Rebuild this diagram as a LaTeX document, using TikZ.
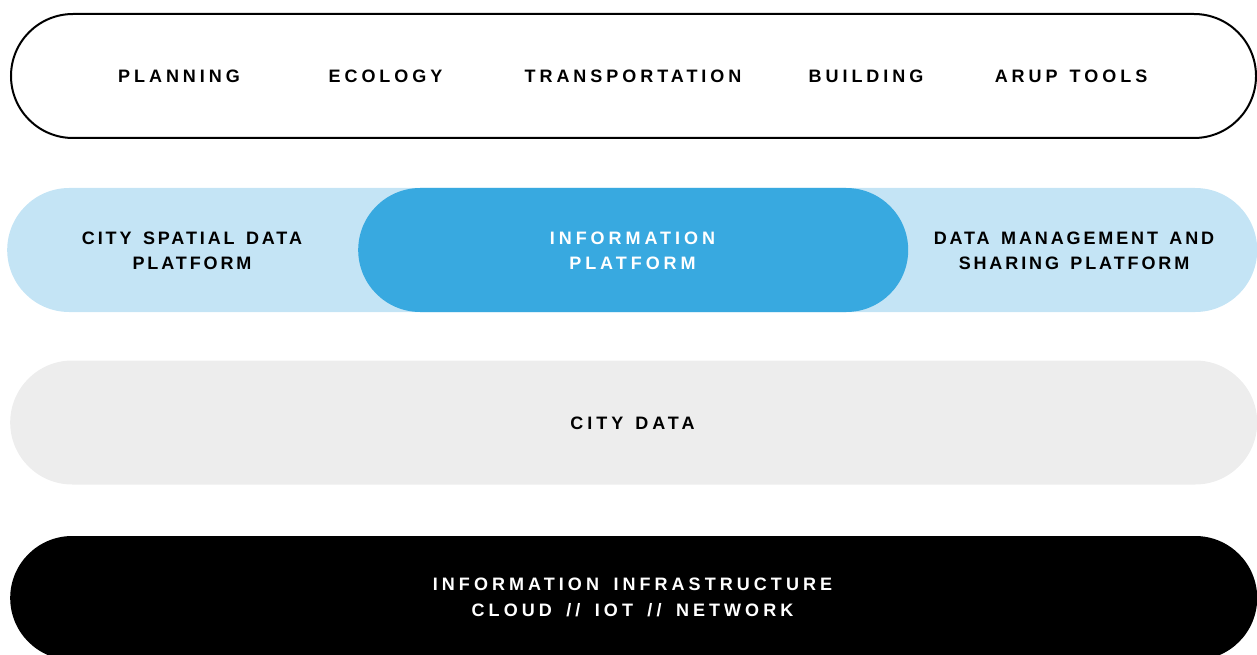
\documentclass[tikz,border=0pt]{standalone}
\usepackage{fontspec}
\newfontfamily\lblA{Liberation Sans}[LetterSpace=22, WordSpace=1.35]
\newfontfamily\lblB{Liberation Sans}[LetterSpace=16, WordSpace=1.45]
\newfontfamily\lblC{Liberation Sans}[LetterSpace=22.5, WordSpace=1.6]
\definecolor{lightblue}{HTML}{C4E4F5}
\definecolor{midblue}{HTML}{38A9E0}
\definecolor{lightgrey}{HTML}{EDEDED}
\tikzset{
  pill/.style={rectangle, rounded corners=62pt, minimum height=124pt, inner sep=0pt, anchor=west},
  lab/.style={font=\lblA\bfseries\fontsize{18pt}{25pt}\selectfont, align=center, inner sep=0pt, text=black},
  labB/.style={lab, font=\lblB\bfseries\fontsize{18pt}{25pt}\selectfont},
  wlab/.style={lab, text=white},
  wlabC/.style={wlab, font=\lblC\bfseries\fontsize{18pt}{26pt}\selectfont}
}
\begin{document}
\begin{tikzpicture}[x=1pt,y=-1pt]
\useasboundingbox (0,0) rectangle (1257,655);
\begin{scope}
\clip (0,0) rectangle (1257,655);
% top row
\node[pill, draw=black, line width=2pt, fill=white, minimum width=1245pt] (tools) at (10,76) {};
% platforms
\node[pill, fill=lightblue, minimum width=1250pt] (plat) at (7,250) {};
\node[pill, fill=midblue, minimum width=550pt] (info) at (358,250) {};
% city data
\node[pill, fill=lightgrey, minimum width=1247pt] (data) at (10,422.5) {};
% infrastructure
\node[pill, fill=black, minimum width=1247pt] (infra) at (10,598) {};
\end{scope}
\node[lab] (planning) at (179,76) {PLANNING};
\node[lab] (ecology) at (385.5,76) {ECOLOGY};
\node[lab] (transport) at (633,76) {TRANSPORTATION};
\node[lab] (building) at (866,76) {BUILDING};
\node[lab] (arup) at (1071,76) {ARUP TOOLS};
\node[labB] (spatial) at (192,250.5) {CITY SPATIAL DATA\\PLATFORM};
\node[wlab] (infoplat) at (632.5,250.5) {INFORMATION\\PLATFORM};
\node[labB] (sharing) at (1074,250.5) {DATA MANAGEMENT AND\\SHARING PLATFORM};
\node[lab] (citydata) at (632.5,423) {CITY DATA};
\node[wlabC] (infratext) at (632.5,597) {INFORMATION INFRASTRUCTURE\\CLOUD // IOT // NETWORK};
\end{tikzpicture}
\end{document}
